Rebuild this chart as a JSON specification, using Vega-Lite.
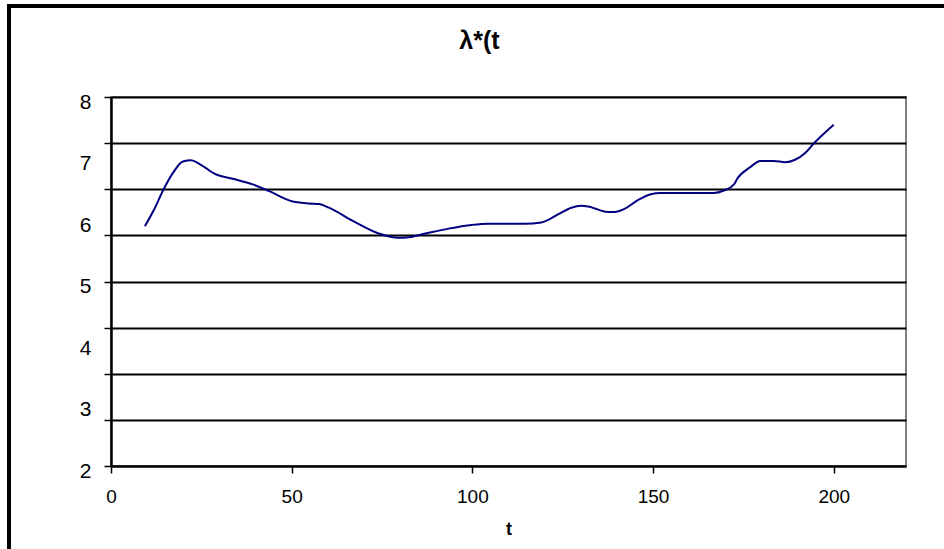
{
  "$schema": "https://vega.github.io/schema/vega-lite/v6.json",
  "width": 795,
  "height": 369,
  "autosize": "none",
  "padding": {"left": 111, "top": 97, "right": 38, "bottom": 83},
  "background": "white",
  "config": {
    "font": "Liberation Sans",
    "view": {"stroke": "#808080", "strokeWidth": 2}
  },
  "title": {
    "text": "λ*(t",
    "font": "Liberation Sans",
    "fontSize": 25,
    "fontWeight": "bold",
    "color": "black",
    "anchor": "middle",
    "frame": "group",
    "dx": -29,
    "offset": -49
  },
  "data": {
    "values": [
      {"t": 9.4, "v": 5.90},
      {"t": 12.1, "v": 6.19},
      {"t": 14.4, "v": 6.48},
      {"t": 17.2, "v": 6.77},
      {"t": 19.9, "v": 6.95},
      {"t": 22.2, "v": 6.97},
      {"t": 24.5, "v": 6.91},
      {"t": 29.1, "v": 6.74},
      {"t": 33.7, "v": 6.67},
      {"t": 39.2, "v": 6.58},
      {"t": 43.8, "v": 6.47},
      {"t": 49.8, "v": 6.31},
      {"t": 54.8, "v": 6.27},
      {"t": 57.6, "v": 6.26},
      {"t": 60.3, "v": 6.20},
      {"t": 66.8, "v": 5.99},
      {"t": 74.1, "v": 5.78},
      {"t": 79.6, "v": 5.71},
      {"t": 82.4, "v": 5.72},
      {"t": 87.0, "v": 5.78},
      {"t": 93.4, "v": 5.86},
      {"t": 99.8, "v": 5.92},
      {"t": 104.4, "v": 5.94},
      {"t": 114.5, "v": 5.94},
      {"t": 119.1, "v": 5.96},
      {"t": 123.7, "v": 6.09},
      {"t": 127.4, "v": 6.20},
      {"t": 130.1, "v": 6.23},
      {"t": 132.0, "v": 6.22},
      {"t": 137.5, "v": 6.13},
      {"t": 139.3, "v": 6.13},
      {"t": 142.1, "v": 6.18},
      {"t": 145.7, "v": 6.32},
      {"t": 149.4, "v": 6.42},
      {"t": 152.1, "v": 6.44},
      {"t": 166.8, "v": 6.44},
      {"t": 169.6, "v": 6.48},
      {"t": 172.4, "v": 6.58},
      {"t": 173.3, "v": 6.67},
      {"t": 176.9, "v": 6.86},
      {"t": 179.7, "v": 6.96},
      {"t": 183.4, "v": 6.96},
      {"t": 186.6, "v": 6.94},
      {"t": 189.3, "v": 6.98},
      {"t": 192.1, "v": 7.09},
      {"t": 194.4, "v": 7.24},
      {"t": 200.0, "v": 7.55}
    ]
  },
  "layer": [
    {
      "mark": {"type": "line", "color": "#000080", "strokeWidth": 2, "interpolate": "monotone"},
      "encoding": {
        "x": {
          "field": "t",
          "type": "quantitative",
          "scale": {"domain": [0, 220], "nice": false, "zero": false},
          "axis": {
            "values": [0, 50, 100, 150, 200],
            "title": "t",
            "titleFont": "Liberation Sans",
            "titleFontSize": 18,
            "titleFontWeight": "bold",
            "titleColor": "black",
            "titlePadding": 14,
            "labelFont": "Liberation Sans",
            "labelFontSize": 19,
            "labelColor": "black",
            "labelPadding": 14,
            "labelFlush": false,
            "tickColor": "black",
            "tickSize": 7,
            "tickWidth": 1.5,
            "domainColor": "black",
            "domainWidth": 2,
            "grid": false
          }
        },
        "y": {
          "field": "v",
          "type": "quantitative",
          "scale": {"domain": [2, 8], "nice": false, "zero": false},
          "axis": {
            "values": [2, 2.75, 3, 3.5, 4, 4.25, 5, 5.75, 6, 6.5, 7, 7.25, 8],
            "title": null,
            "labelExpr": "datum.value % 1 === 0 ? format(datum.value, 'd') : ''",
            "labelOverlap": false,
            "labelFlush": false,
            "labelFont": "Liberation Sans",
            "labelFontSize": 21,
            "labelColor": "black",
            "labelPadding": 13,
            "labelOffset": 5,
            "grid": true,
            "gridColor": "black",
            "gridWidth": 2,
            "gridOpacity": {"condition": {"test": "abs((datum.value-2)/0.75 - round((datum.value-2)/0.75)) < 0.01", "value": 1}, "value": 0},
            "tickOpacity": {"condition": {"test": "abs((datum.value-2)/0.75 - round((datum.value-2)/0.75)) < 0.01", "value": 1}, "value": 0},
            "tickColor": "black",
            "tickSize": 7,
            "tickWidth": 1.5,
            "domainColor": "black",
            "domainWidth": 2.5
          }
        }
      }
    },
    {
      "mark": {"type": "rect", "fill": null, "stroke": "black", "strokeWidth": 2.5, "clip": false},
      "encoding": {
        "x": {"value": -102},
        "y": {"value": -91},
        "x2": {"value": 900},
        "y2": {"value": 600}
      }
    }
  ]
}
